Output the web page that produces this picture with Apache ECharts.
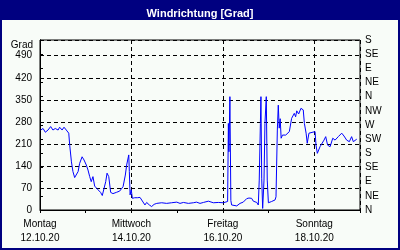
<!DOCTYPE html>
<html><head><meta charset="utf-8">
<script src="https://cdn.jsdelivr.net/npm/echarts@6/dist/echarts.min.js"></script>
<style>html,body{margin:0;padding:0;background:#000080}#c{width:400px;height:250px}</style>
</head><body><div id="c"></div>
<script>
const titleText = 'Windrichtung [Grad]';
const unitLabel = 'Grad';
const dayNames = ['Montag','Mittwoch','Freitag','Sonntag'];
const dayDates = ['12.10.20','14.10.20','16.10.20','18.10.20'];
const dayHours = [0,48,96,144];
const compassLabels = ['N','NE','E','SE','S','SW','W','NW','N','NE','E','SE','S'];
const hours = [0.4,1.6,2.8,4.2,5.6,6.8,8.0,9.5,10.3,11.6,12.6,13.8,15.1,15.6,16.5,17.3,18.2,19.1,20.0,20.8,22.1,23.1,24.3,25.2,26.1,26.9,27.8,28.7,29.6,30.5,31.8,32.7,33.4,34.5,35.2,36.1,37.1,38.3,40.1,41.8,43.6,44.8,45.5,46.6,46.9,47.3,47.9,48.5,49.7,51.1,52.5,53.4,55.1,56.0,57.4,58.6,59.9,61.3,63.9,66.5,69.1,71.8,73.5,75.3,77.9,80.5,82.2,84.0,85.8,88.4,91.0,93.6,96.2,98.5,98.9,99.2,99.7,100.2,100.6,101.5,103.3,105.0,106.7,108.5,109.7,111.1,112.0,113.8,114.6,115.1,115.7,116.0,116.4,116.9,117.6,118.1,118.8,119.3,119.9,121.6,123.4,123.9,124.6,125.1,125.6,126.1,126.6,127.3,129.0,130.0,130.9,132.1,133.5,134.2,134.8,135.8,137.0,138.2,138.8,139.7,140.3,141.2,144.4,144.9,145.6,147.0,147.9,149.1,150.0,151.0,152.3,153.7,154.9,156.6,158.4,159.6,161.0,162.4,163.6,164.5,165.4,166.3];
const degrees = [254,259,247,254,265,254,259,254,263,254,263,254,244,206,153,122,103,98,122,148,169,159,143,127,106,90,106,76,78,64,56,46,48,90,117,106,56,52,56,60,74,111,143,175,122,48,64,37,39,39,40,34,16,24,16,11,18,21,23,21,23,25,21,24,21,23,25,21,24,28,23,24,23,27,275,185,360,30,16,11,13,21,25,36,38,37,28,24,16,95,275,360,101,5,95,275,360,95,23,27,32,42,254,333,260,290,228,238,238,238,249,291,307,296,315,305,323,318,275,244,212,244,249,206,180,201,196,222,233,206,201,228,222,233,244,235,222,217,233,217,222,225];

const FONT = 'Liberation Sans';
const chart = echarts.init(document.getElementById('c'), null, {renderer:'canvas'});
chart.setOption({
  animation:false,
  backgroundColor:'#000080',
  textStyle:{fontFamily:FONT},
  title:{text:titleText,left:'center',top:3,textStyle:{color:'#fff',fontWeight:'bold',fontSize:11,fontFamily:FONT}},
  graphic:[
    {type:'rect',z:-10,silent:true,shape:{x:2,y:20,width:396,height:228},style:{fill:'#f8fcf8'}},
    {type:'text',x:33,y:45,silent:true,style:{text:unitLabel,font:'10px '+FONT,fill:'#000',align:'right',verticalAlign:'middle'}}
  ],
  grid:{left:40,right:40,top:40,bottom:40,show:true,borderColor:'#000',borderWidth:1,backgroundColor:'transparent'},
  xAxis:[
    {type:'value',min:0,max:168,interval:24,position:'bottom',
     axisLine:{lineStyle:{color:'#000'}},
     axisTick:{show:true,length:3,lineStyle:{color:'#000'}},
     splitLine:{show:false},
     axisLabel:{margin:7,color:'#000',fontSize:10,lineHeight:14,fontFamily:FONT,
       formatter:v=>{const i=dayHours.indexOf(v);return i<0?'':dayNames[i]+'\n'+dayDates[i];}}},
    {type:'value',min:0,max:168,interval:48,position:'bottom',
     axisLine:{show:false},axisTick:{show:false},axisLabel:{show:false},
     splitLine:{show:true,lineStyle:{color:'#000',type:[4,3],width:1}}}
  ],
  yAxis:[
    {type:'value',min:0,max:540,interval:70,position:'left',
     axisLine:{show:true,lineStyle:{color:'#000'}},
     axisTick:{show:false},
     splitLine:{show:true,lineStyle:{color:'#000',type:[4,3],width:1}},
     axisLabel:{margin:8,color:'#000',fontSize:10,fontFamily:FONT,formatter:v=>v>500?'':String(v)}},
    {type:'value',min:0,max:540,interval:45,position:'right',
     axisLine:{show:true,lineStyle:{color:'#000'}},
     axisTick:{show:true,length:3,lineStyle:{color:'#000'}},
     splitLine:{show:false},
     axisLabel:{margin:5,color:'#000',fontSize:10,fontFamily:FONT,formatter:v=>compassLabels[Math.round(v/45)]}}
  ],
  series:[{type:'line',xAxisIndex:0,yAxisIndex:0,showSymbol:false,symbol:'none',
    lineStyle:{color:'#0000ff',width:1},
    data:hours.map((h,i)=>[h,degrees[i]])}]
});
</script></body></html>
